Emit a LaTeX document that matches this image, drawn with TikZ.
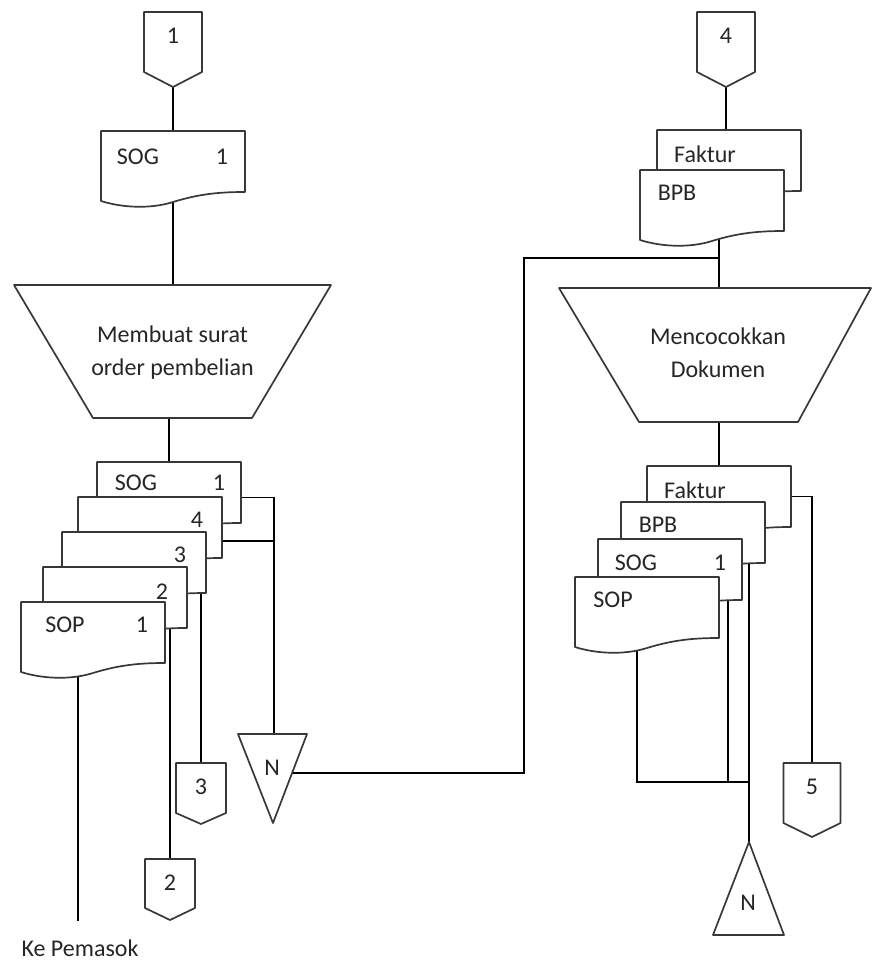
\documentclass[tikz,border=0pt]{standalone}
\usepackage{fontspec}
\setmainfont{Carlito}
\usetikzlibrary{backgrounds}
\tikzset{
  shp/.style={draw=black!78, line width=1.7pt, fill=white, line join=round},
  ln/.style={draw=black, line width=1.4pt},
  txt/.style={font=\fontsize{24}{33}\selectfont, inner sep=0pt, text=black!85},
  docframe/.style={inner sep=0pt, minimum width=144pt, minimum height=61pt},
}
% document symbol: name, x, y (top-left corner)
\newcommand\DocShape[3]{%
  \begin{scope}[shift={(#2,#3)}]
    \path[shp] (0,0) -- (144,0) -- (144,61)
      .. controls (118,61) and (98,63) .. (72,71)
      .. controls (50,78) and (22,77) .. (0,70) -- cycle;
    \node[docframe] (#1) at (72,30.5) {};
  \end{scope}}
% off-page connector: name, cx, top, half width, side height, tip height, label
\newcommand\OffPage[7]{%
  \begin{scope}[shift={(#2,#3)}]
    \path[shp] (-#4,0) -- (#4,0) -- (#4,#5) -- (0,#6) -- (-#4,#5) -- cycle;
    \node[txt] (#1) at (0,24) {#7};
    \coordinate (#1-t) at (0,0);
    \coordinate (#1-b) at (0,#6);
  \end{scope}}
\begin{document}
\begin{tikzpicture}[x=1pt,y=-1pt]
\useasboundingbox (0,0) rectangle (872,964);

% ---------- left column ----------
\OffPage{c1}{173}{12}{29}{60}{75}{1}
\DocShape{sogT}{101}{131}
\node[txt] (sogTa) at (138,157) {SOG};
\node[txt] (sogTb) at (222,157) {1};

\path[shp] (14,285) -- (331,285) -- (252,418) -- (93,418) -- cycle;
\node[txt, align=center] (p1) at (172.5,353) {Membuat surat\\order pembelian};
\coordinate (p1-t) at (173,285);
\coordinate (p1-b) at (169,418);

\DocShape{sogL}{97}{462}
\DocShape{d4}{78}{497}
\DocShape{d3}{62}{532}
\DocShape{d2}{43}{567}
\DocShape{sopL}{21}{602}
\node[txt] (sogLa) at (136,483) {SOG};
\node[txt] (sogLb) at (219,483) {1};
\node[txt] (d4a) at (197,520) {4};
\node[txt] (d3a) at (180,555) {3};
\node[txt] (d2a) at (162,592) {2};
\node[txt] (sopLa) at (65,625) {SOP};
\node[txt] (sopLb) at (142,625) {1};

\OffPage{c3}{201}{763}{25}{50}{61}{3}
\OffPage{c2}{170}{859}{25}{49}{61}{2}

\path[shp] (238,734) -- (307,734) -- (273,823) -- cycle;
\node[txt] (nL) at (272,768) {N};
\coordinate (nL-t) at (274,734);
\coordinate (nL-r) at (292,773);

\coordinate (kp) at (78,921);
\node[txt] (kep) at (80,948) {Ke Pemasok};

% ---------- right column ----------
\OffPage{c4}{726}{12}{29}{60}{75}{4}
\DocShape{fakT}{657}{130}
\DocShape{bpbT}{640}{170}
\node[txt] (fakTa) at (705,154) {Faktur};
\node[txt] (bpbTa) at (677,193) {BPB};

\coordinate (bend) at (524,258);
\coordinate (jT) at (719,258);

\path[shp] (559,288) -- (871,288) -- (798,422) -- (639,422) -- cycle;
\node[txt, align=center] (p2) at (718,352.5) {Mencocokkan\\Dokumen};
\coordinate (p2-t) at (719,288);
\coordinate (p2-b) at (719,422);

\DocShape{fakR}{647}{466}
\DocShape{bpbR}{621}{502}
\DocShape{sogR}{598}{539}
\DocShape{sopR}{575}{577}
\node[txt] (fakRa) at (695,490) {Faktur};
\node[txt] (bpbRa) at (658,525) {BPB};
\node[txt] (sogRa) at (636,563) {SOG};
\node[txt] (sogRb) at (720,563) {1};
\node[txt] (sopRa) at (613,600) {SOP};

\OffPage{c5}{812}{763}{28.5}{60}{74}{5}

\path[shp] (749,842) -- (784,935) -- (713,935) -- cycle;
\node[txt] (nR) at (748,903) {N};
\coordinate (nR-t) at (749,842);

\coordinate (jP) at (637,782);
\coordinate (jS) at (728,782);
\coordinate (jB) at (749,782);

% ---------- connectors ----------
\begin{pgfonlayer}{background}
  \draw[ln] (c1-b) -- (sogT.north);
  \draw[ln] (sogT.center) -- (p1-t);
  \draw[ln] (p1-b) -- (sogL.north);
  \draw[ln] ([yshift=-5pt]sogL.east) -| (nL-t);
  \draw[ln] ([yshift=-13.5pt]d4.east) -| (nL-t);
  \draw[ln] (d3.center -| c3-t) -- (c3-t);
  \draw[ln] (d2.center -| c2-t) -- (c2-t);
  \draw[ln] (sopL.center -| kp) -- (kp);
  \draw[ln] (nL-r) -| (bend) -- (jT);
  \draw[ln] (c4-b) -- (c4-b |- fakT.north);
  \draw[ln] (bpbT.center -| jT) -- (p2-t);
  \draw[ln] (p2-b) -- (fakR.north);
  \draw[ln] (fakR.east) -| (c5-t);
  \draw[ln] (bpbR.center -| nR-t) -- (nR-t);
  \draw[ln] (sogR.center -| jS) -- (jS);
  \draw[ln] (sopR.center -| jP) -- (jP) -- (jB);
\end{pgfonlayer}
\end{tikzpicture}
\end{document}
